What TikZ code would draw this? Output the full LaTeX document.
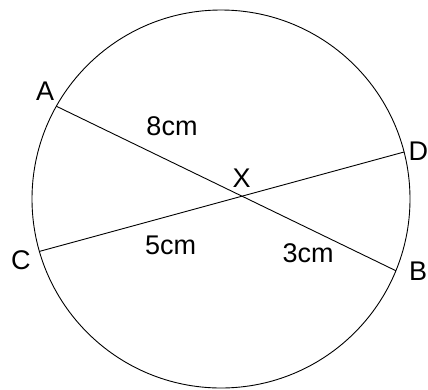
\documentclass[tikz,border=0pt]{standalone}
\usepackage{fontspec}
\setmainfont{Liberation Sans}
\usetikzlibrary{calc}
\begin{document}
\begin{tikzpicture}[x=1pt,y=-1pt,
  lbl/.style={inner sep=0pt,font=\fontsize{27}{31}\selectfont},
  chord/.style={line width=0.9pt,black}]
\useasboundingbox (0,0) rectangle (428,389);
\coordinate (O) at (221,199);
\node[circle,draw,line width=0.9pt,minimum size=378pt,inner sep=0pt] (circ) at (O) {};
\coordinate (A) at ($(O)+(150.6:189pt)$);
\coordinate (B) at ($(O)+(-22.3:189pt)$);
\coordinate (C) at ($(O)+(196.1:189pt)$);
\coordinate (D) at ($(O)+(14.4:189pt)$);
\coordinate (X) at (intersection of A--B and C--D);
\draw[chord] (A) -- (B);
\draw[chord] (C) -- (D);
\node[lbl] (lA) at (45.2,91.7) {A};
\node[lbl] (lB) at (418,270.8) {B};
\node[lbl] (lC) at (20.8,260) {C};
\node[lbl] (lD) at (418.3,150.8) {D};
\node[lbl] (lX) at (241.7,178.7) {X};
\node[lbl] (l8) at (172,126) {8cm};
\node[lbl] (l5) at (170.7,245) {5cm};
\node[lbl] (l3) at (308,253.5) {3cm};
\end{tikzpicture}
\end{document}
